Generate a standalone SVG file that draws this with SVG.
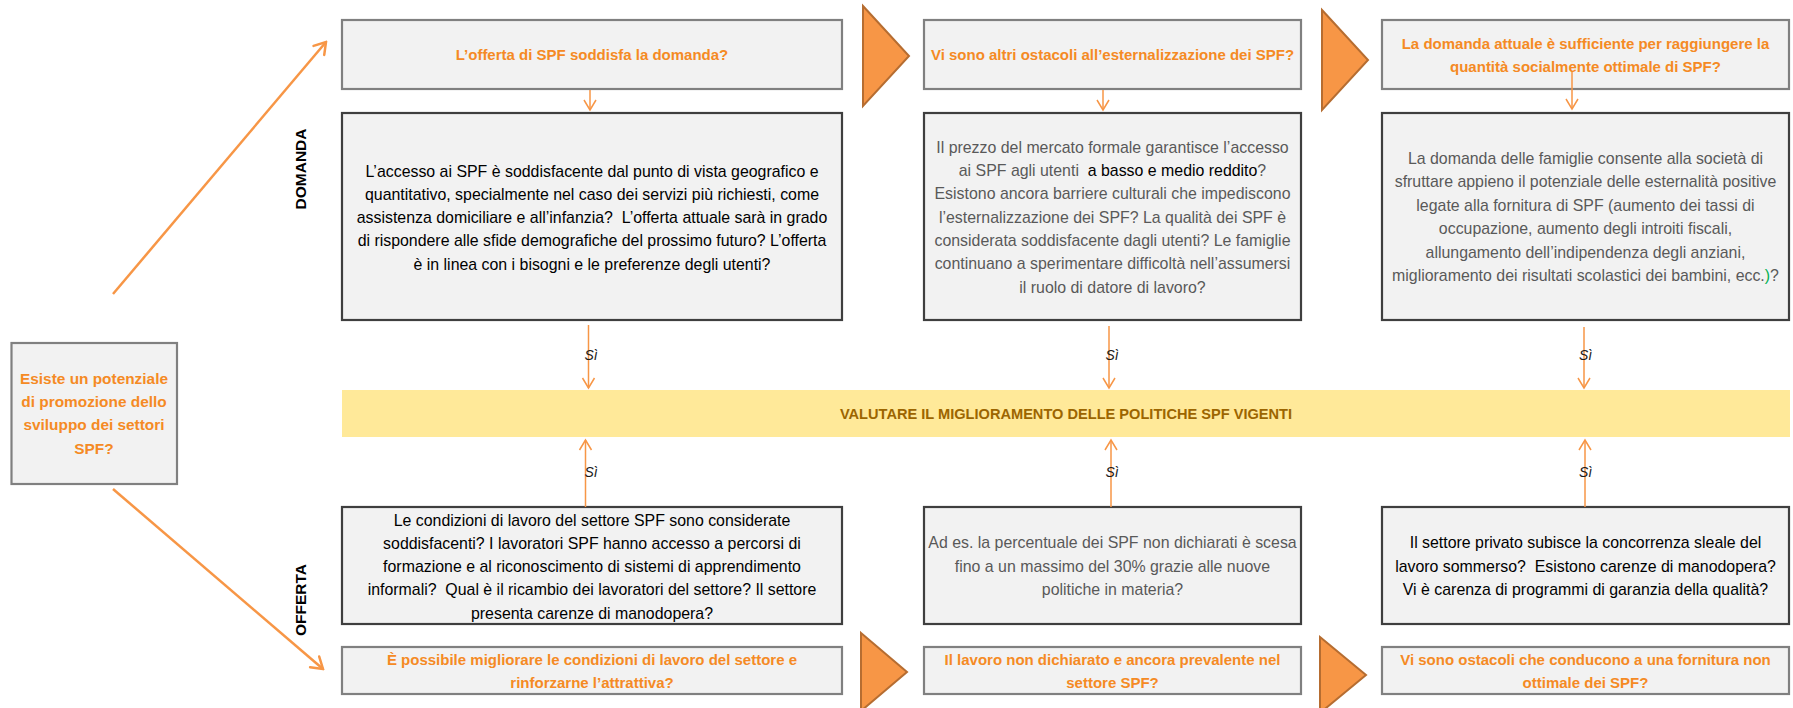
<svg xmlns="http://www.w3.org/2000/svg" width="1793" height="708" viewBox="0 0 1793 708">
  <defs>
    <marker id="arrow-thin" markerUnits="userSpaceOnUse" viewBox="-12 -8 14 16" refX="0" refY="0" markerWidth="14" markerHeight="16" orient="auto">
      <path d="M-10,-6 L0,0 L-10,6" fill="none" stroke="#F79646" stroke-width="1.5"/>
    </marker>
    <marker id="arrow-thick" markerUnits="userSpaceOnUse" viewBox="-14 -10 16 20" refX="0" refY="0" markerWidth="16" markerHeight="20" orient="auto">
      <path d="M-11,-7 L0,0 L-11,7" fill="none" stroke="#F79646" stroke-width="2.5" stroke-linecap="round"/>
    </marker>
    <style>
      .q { fill: #F2F2F2; stroke: #808080; stroke-width: 2.2; }
      .d { fill: #F2F2F2; stroke: #3F3F3F; stroke-width: 2.2; }
      .tri { fill: #F79646; stroke: #B66D31; stroke-width: 2; stroke-linejoin: miter; }
      .band { fill: #FFE999; }
      text { font-family: "Liberation Sans", Arial, sans-serif; }
      .qt { font-weight: bold; font-size: 15px; fill: #F58A24; text-anchor: middle; }
      .st { font-weight: bold; font-size: 15.4px; fill: #F58A24; text-anchor: middle; }
      .bt { font-size: 15.9px; fill: #000000; text-anchor: middle; }
      .gt { fill: #595959; }
      .bandt { font-weight: bold; font-size: 14.6px; fill: #9C6500; text-anchor: middle; }
      .si { font-style: italic; font-size: 14px; fill: #1A1A1A; text-anchor: middle; }
      .lab { font-weight: bold; font-size: 15.5px; fill: #000000; text-anchor: middle; }
      .ln { stroke: #F79646; fill: none; stroke-width: 1.5; }
      .ln2 { stroke: #F79646; fill: none; stroke-width: 2.5; }
    </style>
  </defs>

  <!-- side labels -->
  <text class="lab" transform="translate(306,169) rotate(-90)">DOMANDA</text>
  <text class="lab" transform="translate(306,600) rotate(-90)">OFFERTA</text>

  <!-- starting question -->
  <g id="start">
    <rect class="q" x="11.5" y="343" width="165.5" height="141"/>
    <text class="st"><tspan x="94" y="383.5">Esiste un potenziale</tspan><tspan x="94" y="407">di promozione dello</tspan><tspan x="94" y="430.3">sviluppo dei settori</tspan><tspan x="94" y="453.6">SPF?</tspan></text>
  </g>

  <!-- demand-side questions -->
  <g id="q-offerta">
    <rect class="q" x="342" y="20" width="500" height="69"/>
    <text class="qt" x="592" y="60.3">L’offerta di SPF soddisfa la domanda?</text>
  </g>
  <g id="q-ostacoli">
    <rect class="q" x="924" y="20" width="377" height="69"/>
    <text class="qt" x="1112.5" y="60.3">Vi sono altri ostacoli all’esternalizzazione dei SPF?</text>
  </g>
  <g id="q-domanda">
    <rect class="q" x="1382" y="20" width="407" height="69"/>
    <text class="qt"><tspan x="1585.5" y="48.6">La domanda attuale è sufficiente per raggiungere la</tspan><tspan x="1585.5" y="72">quantità socialmente ottimale di SPF?</tspan></text>
  </g>

  <!-- flow triangles -->
  <g id="flow-top">
    <polygon class="tri" points="863,6 909,56 863,106"/>
    <polygon class="tri" points="1322,10 1368,60 1322,110"/>
  </g>
  <g id="flow-bottom">
    <polygon class="tri" points="861,633 907,672 861,711"/>
    <polygon class="tri" points="1320,637 1366,675 1320,713"/>
  </g>

  <!-- demand detail boxes -->
  <g id="d-accesso">
    <rect class="d" x="342" y="113" width="500" height="207"/>
    <text class="bt" xml:space="preserve"><tspan x="592" y="176.5">L’accesso ai SPF è soddisfacente dal punto di vista geografico e</tspan><tspan x="592" y="199.8">quantitativo, specialmente nel caso dei servizi più richiesti, come</tspan><tspan x="592" y="223.1">assistenza domiciliare e all’infanzia?  L’offerta attuale sarà in grado</tspan><tspan x="592" y="246.4">di rispondere alle sfide demografiche del prossimo futuro? L’offerta</tspan><tspan x="592" y="269.7">è in linea con i bisogni e le preferenze degli utenti?</tspan></text>
  </g>
  <g id="d-prezzo">
    <rect class="d" x="924" y="113" width="377" height="207"/>
    <text class="bt gt" xml:space="preserve"><tspan x="1112.5" y="152.8">Il prezzo del mercato formale garantisce l’accesso</tspan><tspan x="1112.5" y="176.1">ai SPF agli utenti  <tspan fill="#000000">a basso e medio reddito</tspan>?</tspan><tspan x="1112.5" y="199.4">Esistono ancora barriere culturali che impediscono</tspan><tspan x="1112.5" y="222.7">l’esternalizzazione dei SPF? La qualità dei SPF è</tspan><tspan x="1112.5" y="246">considerata soddisfacente dagli utenti? Le famiglie</tspan><tspan x="1112.5" y="269.3">continuano a sperimentare difficoltà nell’assumersi</tspan><tspan x="1112.5" y="292.6">il ruolo di datore di lavoro?</tspan></text>
  </g>
  <g id="d-famiglie">
    <rect class="d" x="1382" y="113" width="407" height="207"/>
    <text class="bt gt"><tspan x="1585.5" y="164">La domanda delle famiglie consente alla società di</tspan><tspan x="1585.5" y="187.4">sfruttare appieno il potenziale delle esternalità positive</tspan><tspan x="1585.5" y="210.8">legate alla fornitura di SPF (aumento dei tassi di</tspan><tspan x="1585.5" y="234.2">occupazione, aumento degli introiti fiscali,</tspan><tspan x="1585.5" y="257.6">allungamento dell’indipendenza degli anziani,</tspan><tspan x="1585.5" y="281">miglioramento dei risultati scolastici dei bambini, ecc.<tspan fill="#00B050">)</tspan>?</tspan></text>
  </g>

  <!-- central outcome -->
  <g id="valutare">
    <rect class="band" x="342" y="390" width="1448" height="47"/>
    <text class="bandt" x="1066" y="418.5">VALUTARE IL MIGLIORAMENTO DELLE POLITICHE SPF VIGENTI</text>
  </g>

  <!-- supply detail boxes -->
  <g id="o-condizioni">
    <rect class="d" x="342" y="507" width="500" height="117"/>
    <text class="bt" xml:space="preserve"><tspan x="592" y="525.5">Le condizioni di lavoro del settore SPF sono considerate</tspan><tspan x="592" y="548.8">soddisfacenti? I lavoratori SPF hanno accesso a percorsi di</tspan><tspan x="592" y="572.1">formazione e al riconoscimento di sistemi di apprendimento</tspan><tspan x="592" y="595.4">informali?  Qual è il ricambio dei lavoratori del settore? Il settore</tspan><tspan x="592" y="618.7">presenta carenze di manodopera?</tspan></text>
  </g>
  <g id="o-percentuale">
    <rect class="d" x="924" y="507" width="377" height="117"/>
    <text class="bt gt"><tspan x="1112.5" y="547.8">Ad es. la percentuale dei SPF non dichiarati è scesa</tspan><tspan x="1112.5" y="572">fino a un massimo del 30% grazie alle nuove</tspan><tspan x="1112.5" y="594.8">politiche in materia?</tspan></text>
  </g>
  <g id="o-privato">
    <rect class="d" x="1382" y="507" width="407" height="117"/>
    <text class="bt" fill="#1A1A1A" xml:space="preserve"><tspan x="1585.5" y="547.8">Il settore privato subisce la concorrenza sleale del</tspan><tspan x="1585.5" y="572">lavoro sommerso?  Esistono carenze di manodopera?</tspan><tspan x="1585.5" y="594.8">Vi è carenza di programmi di garanzia della qualità?</tspan></text>
  </g>

  <!-- supply-side questions -->
  <g id="q-condizioni">
    <rect class="q" x="342" y="647" width="500" height="47"/>
    <text class="qt"><tspan x="592" y="664.6">È possibile migliorare le condizioni di lavoro del settore e</tspan><tspan x="592" y="688">rinforzarne l’attrattiva?</tspan></text>
  </g>
  <g id="q-sommerso">
    <rect class="q" x="924" y="647" width="377" height="47"/>
    <text class="qt"><tspan x="1112.5" y="664.6">Il lavoro non dichiarato e ancora prevalente nel</tspan><tspan x="1112.5" y="688">settore SPF?</tspan></text>
  </g>
  <g id="q-fornitura">
    <rect class="q" x="1382" y="647" width="407" height="47"/>
    <text class="qt"><tspan x="1585.5" y="664.6">Vi sono ostacoli che conducono a una fornitura non</tspan><tspan x="1585.5" y="688">ottimale dei SPF?</tspan></text>
  </g>

  <!-- connectors -->
  <g id="connectors">
    <line class="ln2" x1="113" y1="294" x2="326" y2="42" marker-end="url(#arrow-thick)"/>
    <line class="ln2" x1="113" y1="489" x2="323" y2="669" marker-end="url(#arrow-thick)"/>

    <line class="ln" x1="590" y1="90" x2="590" y2="110" marker-end="url(#arrow-thin)"/>
    <line class="ln" x1="1103" y1="90" x2="1103" y2="110" marker-end="url(#arrow-thin)"/>
    <line class="ln" x1="1572" y1="72" x2="1572" y2="109" marker-end="url(#arrow-thin)"/>

    <line class="ln" x1="588.5" y1="325" x2="588.5" y2="388" marker-end="url(#arrow-thin)"/>
    <line class="ln" x1="1109" y1="326" x2="1109" y2="388" marker-end="url(#arrow-thin)"/>
    <line class="ln" x1="1584" y1="327" x2="1584" y2="388" marker-end="url(#arrow-thin)"/>

    <line class="ln" x1="585.5" y1="507" x2="585.5" y2="440" marker-end="url(#arrow-thin)"/>
    <line class="ln" x1="1111" y1="507" x2="1111" y2="440" marker-end="url(#arrow-thin)"/>
    <line class="ln" x1="1585" y1="507" x2="1585" y2="440" marker-end="url(#arrow-thin)"/>

    <text class="si" x="591" y="360">Sì</text>
    <text class="si" x="1112" y="360">Sì</text>
    <text class="si" x="1585.5" y="360">Sì</text>
    <text class="si" x="591" y="477">Sì</text>
    <text class="si" x="1112" y="477">Sì</text>
    <text class="si" x="1585.5" y="477">Sì</text>
  </g>
</svg>
